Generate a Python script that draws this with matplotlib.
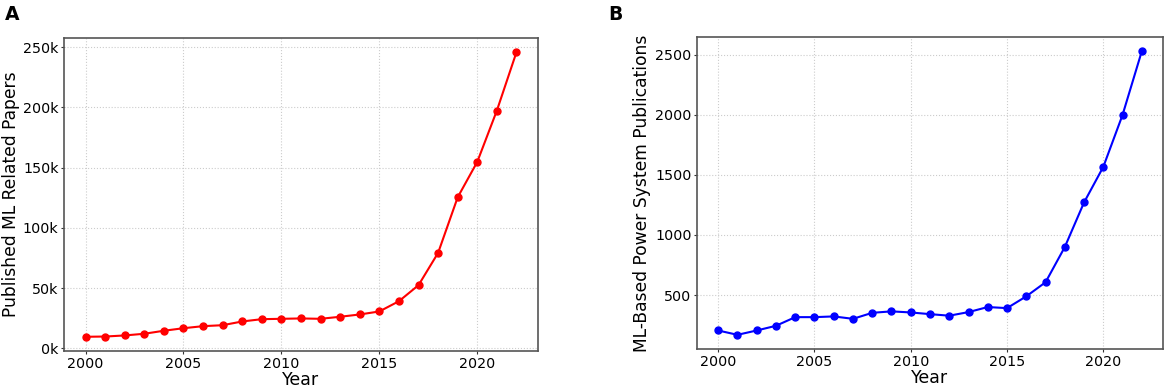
import numpy as np
import matplotlib
matplotlib.use('Agg')
import matplotlib.pyplot as plt
from matplotlib.ticker import FuncFormatter

years = list(range(2000, 2023))

# Panel A: published ML related papers
ml_papers = [9700, 9900, 10800, 12200, 14700, 16800, 18500, 19300, 22400, 24300,
             24600, 24900, 24600, 26300, 28200, 30700, 39200, 52500, 79300, 125400,
             154800, 197300, 245700]

# Panel B: ML-based power system publications
power_pubs = [205, 169, 205, 244, 316, 316, 322, 302, 352, 364,
              355, 341, 328, 358, 400, 391, 489, 606, 899, 1270,
              1566, 1998, 2528]

plt.rcParams.update({'font.family': 'DejaVu Sans'})

W, H = 1170, 391
fig = plt.figure(figsize=(W/100, H/100), dpi=100)


def px_axes(l, t, r, b):
	# axes box from pixel edges (top-left origin)
	return fig.add_axes([l/W, 1 - b/H, (r - l)/W, (b - t)/H])


axA = px_axes(64, 38, 538, 351)
axB = px_axes(697, 37, 1163, 349)


def style_ax(ax):
	ax.grid(True, linestyle=':', color='#cccccc', linewidth=0.8)
	ax.set_axisbelow(True)
	for s in ax.spines.values():
		s.set_color('#555555')
		s.set_linewidth(1.2)
	ax.tick_params(labelsize=10.3, length=2.5, pad=1.5, color='#333333')
	ax.set_xticks([2000, 2005, 2010, 2015, 2020])
	ax.set_xlabel('Year', fontsize=12.5, labelpad=0)


axA.plot(years, ml_papers, 'o-', color='red', markersize=5, linewidth=1.5)
style_ax(axA)
axA.yaxis.set_major_formatter(FuncFormatter(lambda v, p: '{:.0f}k'.format(v/1000)))
axA.set_ylabel('Published ML Related Papers', fontsize=12.3, labelpad=2)

axB.plot(years, power_pubs, 'o-', color='blue', markersize=5, linewidth=1.5)
style_ax(axB)
axB.set_yticks([500, 1000, 1500, 2000, 2500])
axB.set_ylabel('ML-Based Power System Publications', fontsize=12.3, labelpad=3)

fig.text(5/W, 1 - 15/H, 'A', fontsize=13.5, fontweight='bold', va='center')
fig.text(608/W, 1 - 15/H, 'B', fontsize=13.5, fontweight='bold', va='center')

fig.savefig('out.png', dpi=100)
